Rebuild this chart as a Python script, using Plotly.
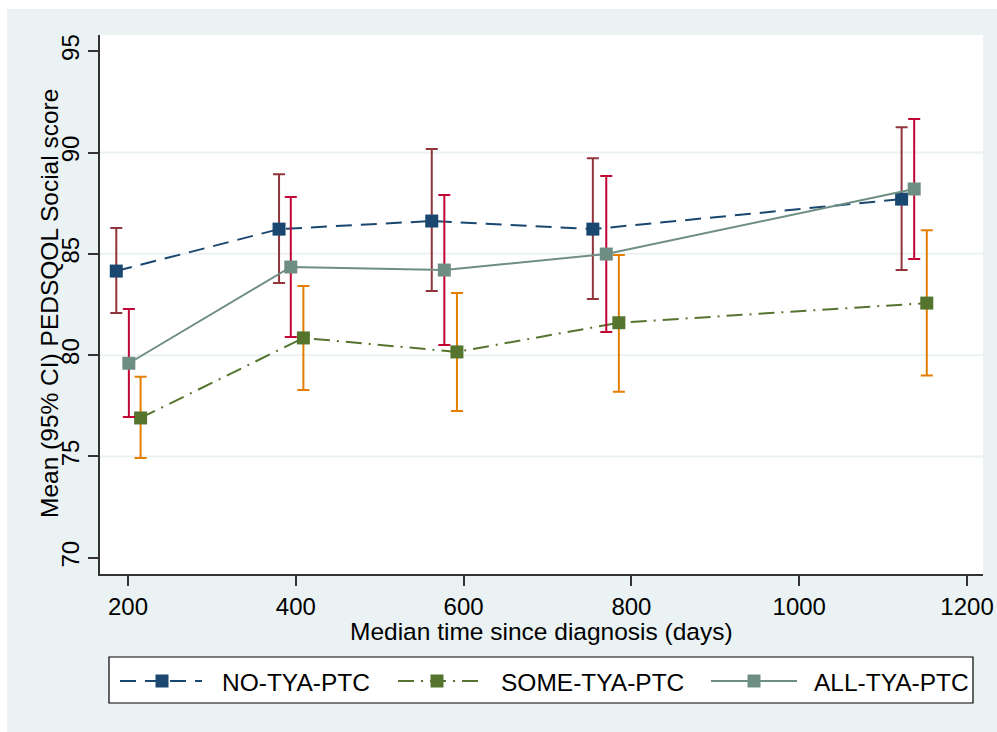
import plotly.graph_objects as go

# ---------------- data ----------------
series_names = ["NO-TYA-PTC", "SOME-TYA-PTC", "ALL-TYA-PTC"]

no_x = [186, 380, 562, 754, 1122]
no_y = [84.15, 86.22, 86.62, 86.22, 87.70]
no_lo = [82.08, 83.56, 83.17, 82.77, 84.20]
no_hi = [86.27, 88.93, 90.17, 89.72, 91.25]

some_x = [215, 409, 592, 785, 1152]
some_y = [76.90, 80.85, 80.16, 81.60, 82.57]
some_lo = [74.93, 78.28, 77.25, 78.20, 79.00]
some_hi = [78.93, 83.41, 83.07, 84.94, 86.17]

all_x = [201, 394, 577, 770, 1137]
all_y = [79.60, 84.35, 84.20, 84.99, 88.20]
all_lo = [76.95, 80.90, 80.50, 81.14, 84.75]
all_hi = [82.28, 87.80, 87.90, 88.84, 91.65]

x_ticks = [200, 400, 600, 800, 1000, 1200]
y_ticks = [70, 75, 80, 85, 90, 95]
grid_values = [75, 80, 85, 90]

# ---------------- styles ----------------
FONT = "Liberation Sans, Arial, sans-serif"
BG = "#EAF2F3"
line_colors = ["#1a476f", "#55752f", "#6e8e84"]
ci_colors = ["#90353b", "#e37e00", "#c10534"]
dashes = ["16px,9px", "16px,7px,2px,7px", "solid"]

W, H = 997, 732
L, R, T, B = 100, 14, 35, 158
PW, PH = W - L - R, H - T - B


def px(x):
    return (x - L) / PW


def py(y):
    return (H - B - y) / PH


fig = go.Figure()

data = [
    (no_x, no_y, no_lo, no_hi),
    (some_x, some_y, some_lo, some_hi),
    (all_x, all_y, all_lo, all_hi),
]

for i, (xs, ys, lo, hi) in enumerate(data):
    fig.add_trace(go.Scatter(
        x=xs, y=ys, mode="lines+markers", name=series_names[i],
        line=dict(color=line_colors[i], width=2, dash=dashes[i]),
        marker=dict(symbol="square", size=13, color=line_colors[i]),
        error_y=dict(
            type="data", symmetric=False,
            array=[h - y for h, y in zip(hi, ys)],
            arrayminus=[y - l for l, y in zip(lo, ys)],
            color=ci_colors[i], thickness=2, width=6,
        ),
        showlegend=False,
    ))

shapes = []
# white strips at top/left outside the grey background
shapes.append(dict(type="rect", xref="paper", yref="paper",
                   x0=px(0), x1=px(W), y0=py(9), y1=py(0),
                   fillcolor="white", line=dict(width=0), layer="below"))
shapes.append(dict(type="rect", xref="paper", yref="paper",
                   x0=px(0), x1=px(7), y0=py(H), y1=py(0),
                   fillcolor="white", line=dict(width=0), layer="below"))
# gridlines
for g in grid_values:
    shapes.append(dict(type="line", xref="paper", yref="y", x0=0, x1=1,
                       y0=g, y1=g, line=dict(color=BG, width=2), layer="below"))

# legend box
shapes.append(dict(type="rect", xref="paper", yref="paper",
                   x0=px(109), x1=px(973), y0=py(703), y1=py(657),
                   fillcolor="white", line=dict(color="black", width=1.2)))

leg_items = [
    (120, 202, 162, 220),
    (398, 484, 437, 499),
    (711, 797, 754, 812),
]
leg_y = 681
annotations = []
for i, (lx0, lx1, mx, tx) in enumerate(leg_items):
    shapes.append(dict(type="line", xref="paper", yref="paper",
                       x0=px(lx0), x1=px(lx1), y0=py(leg_y), y1=py(leg_y),
                       line=dict(color=line_colors[i], width=2, dash=dashes[i])))
    shapes.append(dict(type="rect", xref="paper", yref="paper",
                       x0=px(mx - 6.5), x1=px(mx + 6.5),
                       y0=py(leg_y + 6.5), y1=py(leg_y - 6.5),
                       fillcolor=line_colors[i], line=dict(width=0)))
    annotations.append(dict(text=series_names[i], xref="paper", yref="paper",
                            x=px(tx), y=py(leg_y + 1), xanchor="left", yanchor="middle",
                            showarrow=False, font=dict(family=FONT, size=24.5, color="black")))

# axis titles
annotations.append(dict(text="Median time since diagnosis (days)", xref="paper", yref="paper",
                        x=px(541.5), y=py(631), xanchor="center", yanchor="middle",
                        showarrow=False, font=dict(family=FONT, size=24.5, color="black")))
annotations.append(dict(text="Mean (95% CI) PEDSQOL Social score", xref="paper", yref="paper",
                        x=px(49), y=py(304), xanchor="center", yanchor="middle", textangle=-90,
                        showarrow=False, font=dict(family=FONT, size=24.5, color="black")))

fig.update_layout(
    width=W, height=H,
    margin=dict(l=L, r=R, t=T, b=B, pad=0, autoexpand=False),
    paper_bgcolor=BG, plot_bgcolor="white",
    font=dict(family=FONT, size=24, color="black"),
    shapes=shapes, annotations=annotations,
    xaxis=dict(range=[166.6, 1219], tickvals=x_ticks, showgrid=False, zeroline=False,
               automargin=False,
               showline=True, linecolor="#333333", linewidth=1.5,
               ticks="outside", ticklen=10, tickwidth=1.5, tickcolor="#333333",
               tickfont=dict(family=FONT, size=24, color="black")),
    yaxis=dict(range=[69.2, 95.8], tickvals=y_ticks, showgrid=False, zeroline=False,
               automargin=False,
               showline=True, linecolor="#333333", linewidth=1.5,
               ticks="outside", ticklen=10, tickwidth=1.5, tickcolor="#333333",
               tickangle=-90,
               tickfont=dict(family=FONT, size=24, color="black")),
)

fig.write_html(
    "out.html",
    config={"displayModeBar": False},
    post_script="document.body.style.margin='0';document.body.style.padding='0';",
)
